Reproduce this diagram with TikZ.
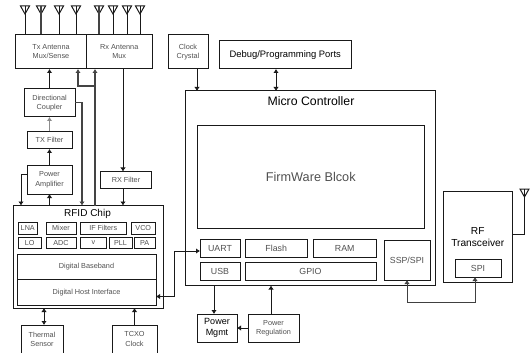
\documentclass[tikz,border=0pt]{standalone}
\usepackage{fontspec}
\setmainfont{Liberation Sans}
\usetikzlibrary{arrows.meta}
\definecolor{txtgray}{HTML}{505050}
\definecolor{linegray}{HTML}{444444}
\tikzset{
  box/.style={draw=black!90,line width=1pt,inner sep=0pt,outer sep=0pt,align=center,text=txtgray,font=\fontsize{7.3}{9.2}\selectfont},
  smallbox/.style={box,font=\fontsize{7.2}{8}\selectfont},
  midbox/.style={box,font=\fontsize{8.8}{10}\selectfont},
  darktxt/.style={text=black},
  conn/.style={draw=black!90,line width=1pt},
  conngray/.style={draw=linegray,line width=1.6pt},
  arr/.style={conn,-{Latex[length=4pt,width=5.5pt]}},
  arrg/.style={conngray,-{Latex[length=4pt,width=5.5pt]}},
  arrb/.style={conn,{Latex[length=4pt,width=5.5pt]}-{Latex[length=4pt,width=5.5pt]}},
  lbl/.style={inner sep=0pt,text=black}
}
\newcommand{\bx}[7]{\node[#2,minimum width={(#5-#3)*1pt},minimum height={(#6-#4)*1pt}] (#1) at ({(#3+#5)/2},{(#4+#6)/2}) {#7};}
\newcommand{\antenna}[3]{\coordinate (#1) at (#2,#3);
  \draw[line width=1pt,draw=black!90] (#2-4.5,#3) -- (#2+4.5,#3) -- (#2,#3+8) -- cycle;}
\begin{document}
\begin{tikzpicture}[x=1pt,y=-1pt]
\useasboundingbox (0,0) rectangle (531,353);
\clip (0,0) rectangle (531,353);
% Antenna mux
\bx{tx}{box}{15.5}{34.5}{86.5}{69}{Tx Antenna\\Mux/Sense}
\bx{rx}{box}{86.5}{34.5}{152}{69}{Rx Antenna\\Mux}
% RF front
\bx{coupler}{box}{24}{88.5}{75}{117}{Directional\\Coupler}
\bx{txf}{box}{27}{131.5}{72}{149}{TX Filter}
\bx{pa}{box}{27}{165.5}{72}{194}{Power\\Amplifier}
\bx{rxf}{box}{100.5}{171.5}{151.5}{188.5}{RX Filter}
% RFID chip
\bx{rfid}{box}{13}{205.5}{163}{308}{}
\node[lbl,font=\fontsize{10}{12}\selectfont] (rfidt) at (87.5,214) {RFID Chip};
\bx{lna}{smallbox}{18}{222.5}{37.5}{234}{LNA}
\bx{mixer}{smallbox}{46}{222.5}{76}{234}{Mixer}
\bx{iff}{smallbox}{80.5}{222.5}{126}{234}{IF Filters}
\bx{vco}{smallbox}{131.5}{222.5}{155}{234}{VCO}
\bx{lo}{smallbox}{18}{237}{41.5}{248.5}{LO}
\bx{adc}{smallbox}{46}{237}{76}{248.5}{ADC}
\bx{vv}{smallbox}{80.5}{237}{106.5}{248.5}{v}
\bx{pll}{smallbox}{109}{237}{132}{248.5}{PLL}
\bx{pab}{smallbox}{134.5}{237}{155}{248.5}{PA}
\bx{dbb}{box}{17}{254}{156}{279.5}{Digital Baseband}
\bx{dhi}{box}{17}{279.5}{156}{305.5}{Digital Host Interface}
\bx{therm}{box}{21}{325}{63}{358}{Thermal\\Sensor\\[-4.2pt]\mbox{}}
\bx{tcxo}{box}{112}{325}{157}{358}{TCXO\\Clock\\[-4.2pt]\mbox{}}
% Top
\bx{clock}{box}{168}{34.5}{208}{69}{Clock\\Crystal}
\bx{debug}{midbox,darktxt,font=\fontsize{9.4}{11}\selectfont}{219.5}{40.5}{351}{69}{Debug/Programming Ports}
% Micro controller
\bx{mc}{box}{185.5}{91}{435.5}{285.5}{}
\node[lbl,font=\fontsize{12.3}{14}\selectfont] (mct) at (311,101) {Micro Controller};
\bx{fw}{box,font=\fontsize{12.7}{14}\selectfont}{197}{126}{424.5}{228.5}{FirmWare Blcok}
\bx{uart}{midbox}{200}{239.5}{240}{257}{UART}
\bx{flash}{midbox}{245}{239.5}{307.5}{257}{Flash}
\bx{ram}{midbox}{313.5}{239.5}{376}{257}{RAM}
\bx{usb}{midbox}{200}{262}{240}{280}{USB}
\bx{gpio}{midbox}{245}{262}{376}{280}{GPIO}
\bx{ssp}{midbox}{384}{240}{430}{280}{SSP/SPI}
% Power
\bx{pm}{box,darktxt,font=\fontsize{9}{11}\selectfont}{197}{314}{237}{342}{Power\\Mgmt}
\bx{preg}{box}{248}{314}{299}{342}{Power\\Regulation}
% RF transceiver
\bx{rft}{box,darktxt,font=\fontsize{10.2}{12}\selectfont}{443.5}{191.5}{512}{282.5}{RF\\Transceiver}
\bx{spi}{midbox}{455}{259.5}{501}{277}{SPI}
% Antennas
\antenna{a1}{25}{6}\antenna{a2}{41}{6}\antenna{a3}{59}{6}\antenna{a4}{76}{6}
\antenna{a5}{99}{6}\antenna{a6}{113}{6}\antenna{a7}{127}{6}\antenna{a8}{140}{6}
\antenna{a9}{524.5}{189}
\draw[conn] (a1) -- (a1 |- tx.north);
\draw[conngray] (a2) -- (a2 |- tx.north);
\draw[conn] (a3) -- (a3 |- tx.north);
\draw[conn] (a4) -- (a4 |- tx.north);
\draw[conngray] (a5) -- (a5 |- rx.north);
\draw[conn] (a6) -- (a6 |- rx.north);
\draw[conn] (a7) -- (a7 |- rx.north);
\draw[conn] (a8) -- (a8 |- rx.north);
\coordinate (rftout) at (512,234);
\draw[conn] (a9) -- (a9 |- rftout) -- (rftout);
% Connectors
\draw[arr] (49.5,0 |- coupler.north) -- (49.5,0 |- tx.south);
\draw[conn,-{Latex[length=4pt,width=5.5pt]},draw=black!45,line width=1.3pt] (49.5,0 |- txf.north) -- (49.5,0 |- coupler.south);
\draw[arr] (49.5,0 |- pa.north) -- (49.5,0 |- txf.south);
\draw[arr] (49.5,0 |- rfid.north) -- (49.5,0 |- pa.south);
\draw[arr] (27,175) -- (21,175) -- (21,0 |- rfid.north);
\draw[arrg] (75,102.5) -- (82,102.5) -- (82,0 |- rfid.north);
\draw[arrg] (95,0 |- rfid.north) -- (95,0 |- rx.south);
\draw[arrg] (95,86) -- (78,86) -- (78,0 |- tx.south);
\draw[arr] (123,0 |- rx.south) -- (123,0 |- rxf.north);
\draw[arr] (123,0 |- rxf.south) -- (123,0 |- rfid.north);
\draw[arrb] (44,0 |- rfid.south) -- (44,0 |- therm.north);
\draw[arr] (134.5,0 |- tcxo.north) -- (134.5,0 |- rfid.south);
\draw[arrb] (dhi.east |- 0,296.5) -- (174,296.5) -- (174,251) -- (uart.west |- 0,251);
\draw[arr] (197,0 |- clock.south) -- (197,0 |- mc.north);
\draw[arrb] (276,0 |- debug.south) -- (276,0 |- mc.north);
\draw[arr] (214,0 |- mc.south) -- (214,0 |- pm.north);
\draw[arr] (271,0 |- preg.north) -- (271,0 |- mc.south);
\draw[arr] (preg.west) -- (pm.east);
\draw[arrb,draw=black!75] (407,0 |- ssp.south) -- (407,302.5) -- (475,302.5) -- (475,0 |- spi.south);
\end{tikzpicture}
\end{document}
